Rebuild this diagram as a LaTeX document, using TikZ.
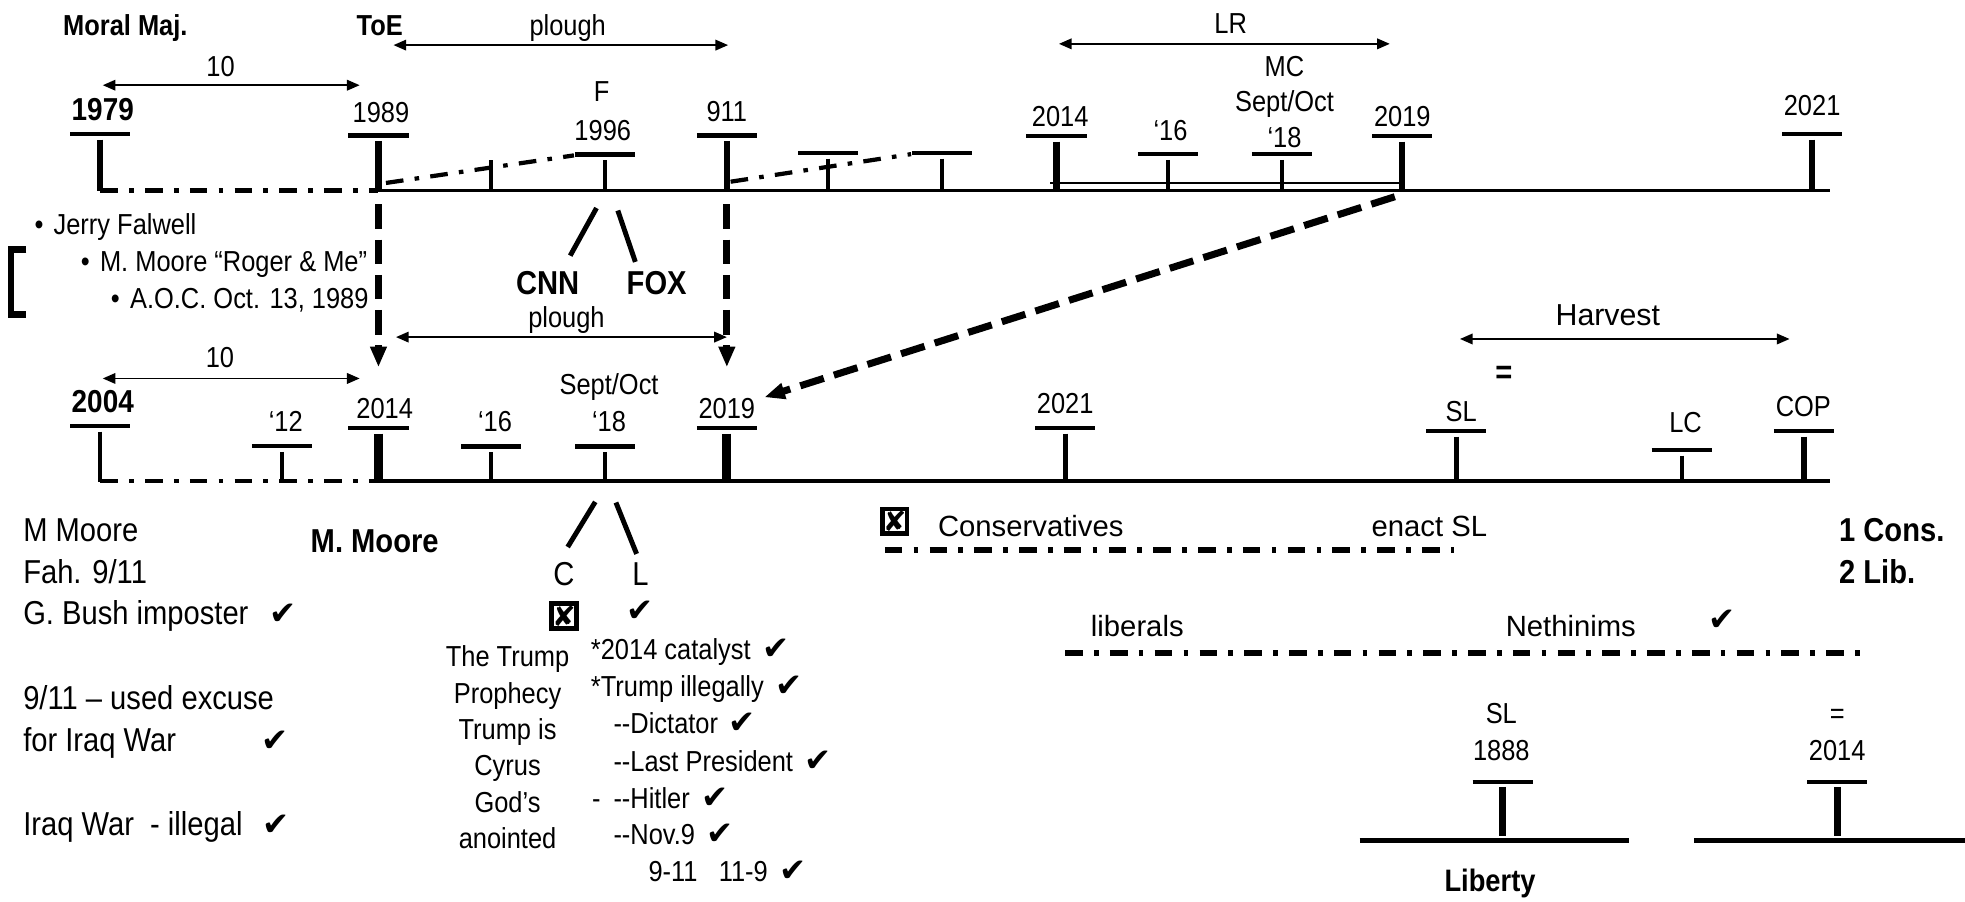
\documentclass[tikz,border=0pt]{standalone}
\usepackage{fontspec}
\setmainfont{Liberation Sans}[FakeStretch=0.88]
\newfontfamily\plainface{Liberation Sans}
\newfontfamily\chkfont{DejaVu Sans}
\usetikzlibrary{arrows.meta}

\begin{document}
\begin{tikzpicture}[x=0.0125cm, y=-0.0125cm, >={Triangle[length=3.6pt, width=3pt]},
  lbl/.style={inner sep=0pt, anchor=base, font=\fontsize{8.2}{10}\selectfont},
  lblw/.style={lbl, anchor=base west},
  bigfont/.style={font=\fontsize{9.4}{11}\selectfont},
  boldfont/.style={font=\fontsize{8.2}{10}\selectfont\bfseries},
  bigbold/.style={font=\fontsize{9.4}{11}\selectfont\bfseries},
  plainlbl/.style={font=\plainface\fontsize{8.3}{10}\selectfont},
  chkmark/.style={inner sep=0pt, anchor=base, font=\chkfont\fontsize{9.2}{11}\selectfont},
  xbox/.style={draw, line width=1.3pt, minimum size=7pt, inner sep=0pt, font=\chkfont\fontsize{8}{8}\selectfont},
  axisline/.style={line width=1.1pt},
  yrbar/.style={line width=1.3pt},
  thinstem/.style={line width=1.1pt},
  midstem/.style={line width=1.5pt},
  thickstem/.style={line width=1.8pt},
  fatstem/.style={line width=2.5pt},
  dashdot/.style={line width=1.2pt, dash pattern=on 5pt off 3.2pt on 1.3pt off 3.2pt},
  spanarrow/.style={<->, line width=0.5pt},
  jump/.style={line width=2pt, dash pattern=on 7pt off 3pt, -{Triangle[length=5.8pt, width=4.4pt]}},
  fork/.style={line width=1.4pt}]

  \useasboundingbox (0,0) rectangle (1568,719);

  % Upper timeline
  \draw[dashdot] (80,152) -- (302,152);
  \draw[axisline] (302,152) -- (1460,152);
  \draw[dashdot] (308,146) -- (458,124);
  \draw[dashdot] (583,145) -- (727,123);
  \draw[line width=0.8pt] (838,146) -- (1119,146);
  \foreach \x/\y/\s in {80/107/thickstem, 302/108/thickstem, 483/123.5/thinstem,
      580/108/thickstem, 661/122/thinstem, 752/122/thinstem, 843/108.5/thickstem,
      932/123/thinstem, 1023/123/thinstem, 1119/108.5/thickstem, 1446/107/thickstem} {
    \draw[yrbar] ({\x-24},\y) -- ({\x+24},\y);
    \draw[\s] (\x,{\y+4.5}) -- (\x,152.5);
  }
  \draw[thinstem] (392,128) -- (392,152);

  % Upper labels
  \node[lbl, boldfont] (moral) at (100,28) {Moral Maj.};
  \node[lbl, boldfont] (toe) at (303,28) {ToE};
  \node[lbl] (plough1) at (453,28) {plough};
  \node[lbl] (lr) at (982,27) {LR};
  \node[lbl] (ten1) at (176,61) {10};
  \node[lbl, font=\fontsize{9}{10}\selectfont\bfseries] (y1979) at (82,96) {1979};
  \node[lbl] (y1989) at (304,98) {1989};
  \node[lbl] (f) at (480,81) {F};
  \node[lbl] (y1996) at (481,112) {1996};
  \node[lbl] (y911) at (580,97) {911};
  \node[lbl] (y2014a) at (846,101) {2014};
  \node[lbl] (y16a) at (934,112) {‘16};
  \node[lbl] (mc) at (1025,61) {MC};
  \node[lbl] (septa) at (1025,89) {Sept/Oct};
  \node[lbl] (y18a) at (1025,118) {‘18};
  \node[lbl] (y2019a) at (1119,101) {2019};
  \node[lbl] (y2021a) at (1446,92.5) {2021};

  \coordinate (t1a) at (82,68);   \coordinate (t1b) at (287,68);
  \coordinate (p1a) at (314,36);  \coordinate (p1b) at (581,36);
  \coordinate (lra) at (845,35);  \coordinate (lrb) at (1109,35);
  \draw[spanarrow] (t1a) -- (t1b);
  \draw[spanarrow] (p1a) -- (p1b);
  \draw[spanarrow] (lra) -- (lrb);

  % Middle
  \node[lblw] (jf) at (27,187.5) {•\hspace{2.9pt}Jerry Falwell};
  \node[lblw] (mm) at (64,217) {•\hspace{2.9pt}M. Moore “Roger \& Me”};
  \node[lblw] (aoc) at (88,246) {•\hspace{2.9pt}A.O.C. Oct. 13, 1989};
  \draw[line width=1.8pt] (21,199) -- (9,199) -- (9,251) -- (21,251);

  \coordinate (fa) at (476,166);  \coordinate (fb) at (455,204);
  \coordinate (fc) at (493,168);  \coordinate (fd) at (507,209);
  \draw[fork] (fa) -- (fb);
  \draw[fork] (fc) -- (fd);
  \node[lbl, bigbold] (cnn) at (437,235) {CNN};
  \node[lbl, bigbold] (fox) at (524,235) {FOX};

  \coordinate (d89) at (302,163);    \coordinate (d14) at (302,293);
  \coordinate (d911) at (580,163);   \coordinate (d19) at (580,293);
  \coordinate (d19top) at (1113,157); \coordinate (d19low) at (610,317);
  \draw[jump] (d89) -- (d14);
  \draw[jump] (d911) -- (d19);
  \draw[jump] (d19top) -- (d19low);

  \node[lbl] (plough2) at (452,261) {plough};
  \node[lbl] (ten2) at (175.5,293) {10};
  \node[lbl, plainlbl, font=\plainface\fontsize{8.6}{10}\selectfont] (harvest) at (1283,259.5) {Harvest};
  \node[lbl, bigbold] (eqa) at (1200,306) {=};
  \coordinate (p2a) at (316,269);   \coordinate (p2b) at (580,269);
  \coordinate (t2a) at (82,302);    \coordinate (t2b) at (287,302);
  \coordinate (ha) at (1165,270.5); \coordinate (hb) at (1428,270.5);
  \draw[spanarrow] (p2a) -- (p2b);
  \draw[spanarrow] (t2a) -- (t2b);
  \draw[spanarrow] (ha) -- (hb);

  % Lower timeline
  \draw[dashdot] (80,384) -- (302,384);
  \draw[axisline] (302,384) -- (1460,384);
  \foreach \x/\y/\s in {80/340/thinstem, 225/356/thinstem, 302/341.5/fatstem,
      392/356.5/thinstem, 483/356.5/thinstem, 580/341.5/fatstem, 850/341.5/midstem,
      1162/344/midstem, 1342/359/thinstem, 1439.5/344/midstem} {
    \draw[yrbar] ({\x-24},\y) -- ({\x+24},\y);
    \draw[\s] (\x,{\y+4.5}) -- (\x,384.5);
  }

  \node[lbl, font=\fontsize{9}{10}\selectfont\bfseries] (y2004) at (82,329) {2004};
  \node[lbl] (y12) at (228,344.5) {‘12};
  \node[lbl] (y2014b) at (307,334) {2014};
  \node[lbl] (y16b) at (395,344.5) {‘16};
  \node[lbl] (septb) at (486,315) {Sept/Oct};
  \node[lbl] (y18b) at (486,344.5) {‘18};
  \node[lbl] (y2019b) at (580,334) {2019};
  \node[lbl] (y2021b) at (850,330) {2021};
  \node[lbl] (sl) at (1166,336.5) {SL};
  \node[lbl] (lc) at (1345,345.5) {LC};
  \node[lbl] (cop) at (1439,332.5) {COP};

  % Left notes
  \foreach \y/\t [count=\i] in {432.5/{M Moore}, 465.5/{Fah. 9/11}, 498.7/{G. Bush imposter},
      566.5/{9/11 – used excuse}, 600/{for Iraq War}, 666.5/{Iraq War\ \ - illegal}}
    \node[lblw, bigfont] (note\i) at (18,\y) {\t};
  \node[chkmark] (ok1) at (226,498.7) {✔};
  \node[chkmark] (ok2) at (219.5,600) {✔};
  \node[chkmark] (ok3) at (220.5,666.5) {✔};

  \node[lbl, bigbold] (moore) at (299,440.5) {M. Moore};

  % C / L split
  \coordinate (ca) at (475,400.5); \coordinate (cb) at (453,436.5);
  \coordinate (la) at (491.5,401); \coordinate (lb) at (508,442);
  \draw[fork] (ca) -- (cb);
  \draw[fork] (la) -- (lb);
  \node[lbl, bigfont] (cc) at (450,467.6) {C};
  \node[lbl, bigfont] (ll) at (511,467.6) {L};
  \node[xbox] (cx) at (450,491.5) {✘};
  \node[chkmark] (lok) at (511,496) {✔};

  \foreach \t [count=\i] in {The Trump, Prophecy, Trump is, Cyrus, God’s, anointed}
    \node[lbl] (tp\i) at (405,{532+29*(\i-1)}) {\t};

  \foreach \x/\y/\t/\c [count=\i] in {471/526.6/*2014 catalyst/619,
      471/556/*Trump illegally/629.5, 489/585.7/-{}-Dictator/592.5,
      489/616/-{}-Last President/652.5, 489/645/-{}-Hitler/571,
      489/674/-{}-Nov.9/574.5, 517/703.6/9-11\hspace{6pt}11-9/632.5} {
    \node[lblw] (item\i) at (\x,\y) {\t};
    \node[chkmark] (iok\i) at (\c,\y) {✔};
  }
  \node[lblw] (dash) at (472,645) {-};

  % Right notes
  \node[xbox] (consx) at (714,416) {✘};
  \node[lblw, plainlbl] (cons) at (748,428.4) {Conservatives};
  \node[lblw, plainlbl] (enact) at (1094,428.4) {enact SL};
  \draw[dashdot, line width=1.5pt] (706,439) -- (1160,439);
  \node[lblw, bigbold] (one) at (1467,432.4) {1 Cons.};
  \node[lblw, bigbold] (two) at (1467,465.5) {2 Lib.};
  \node[lblw, plainlbl] (libs) at (870,508) {liberals};
  \node[lblw, plainlbl] (neth) at (1201,508) {Nethinims};
  \node[chkmark] (nok) at (1374,503) {✔};
  \draw[dashdot, line width=1.5pt] (850,521) -- (1484,521);

  % Liberty
  \node[lbl] (sl2) at (1198,577) {SL};
  \node[lbl] (y1888) at (1198,606.5) {1888};
  \node[lbl] (eqb) at (1466,577) {=};
  \node[lbl] (y2014c) at (1466,606.5) {2014};
  \foreach \x in {1199,1466} {
    \draw[yrbar] ({\x-24},624) -- ({\x+24},624);
    \draw[line width=2pt] (\x,628) -- (\x,667);
  }
  \draw[line width=1.4pt] (1085,671) -- (1300,671);
  \draw[line width=1.4pt] (1352,671) -- (1569,671);
  \node[lbl, font=\fontsize{8.8}{10}\selectfont\bfseries] (liberty) at (1189,711) {Liberty};
\end{tikzpicture}
\end{document}
